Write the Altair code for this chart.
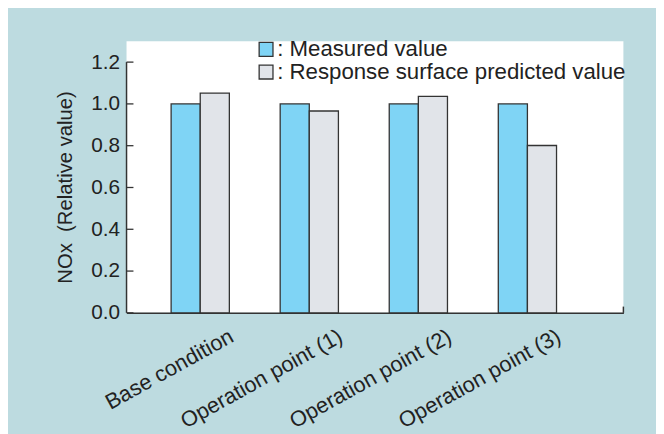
import altair as alt
import pandas as pd

categories = ["Base condition", "Operation point (1)", "Operation point (2)", "Operation point (3)"]
series_names = ["Measured value", "Response surface predicted value"]
measured = [1.0, 1.0, 1.0, 1.0]
predicted = [1.052, 0.966, 1.036, 0.801]
y_ticks = [0.0, 0.2, 0.4, 0.6, 0.8, 1.0, 1.2]

rows = []
for c, m, p in zip(categories, measured, predicted):
    rows.append({"category": c, "series": series_names[0], "value": m})
    rows.append({"category": c, "series": series_names[1], "value": p})
df = pd.DataFrame(rows)

FONT = "Liberation Sans"
BLUE = "#7fd4f5"
GRAY = "#e1e4e9"
DARK = "#333333"
TXT = "#222222"
BG = "#bddbe0"
YTITLE = "NOx\u00a0\u00a0(Relative value)"

ysc = alt.Scale(domain=[0, 1.3], nice=False)

bars = alt.Chart(df).mark_bar(stroke=DARK, strokeWidth=1.3).encode(
    x=alt.X(
        "category:N",
        sort=categories,
        scale=alt.Scale(paddingInner=0.466, paddingOuter=0.511, align=0.40),
        axis=alt.Axis(
            title=None, labelAngle=-29, labelAlign="right", labelBaseline="top",
            labelOffset=27, labelPadding=13, ticks=False, labelLimit=400,
            domainColor=DARK, domainWidth=1.5,
            labelFontSize=22, labelFont=FONT, labelColor=TXT,
        ),
    ),
    xOffset=alt.XOffset("series:N", sort=series_names,
                        scale=alt.Scale(paddingInner=0, paddingOuter=0)),
    y=alt.Y(
        "value:Q",
        scale=ysc,
        axis=alt.Axis(
            values=y_ticks, format=".1f", domain=False, ticks=False, grid=False,
            labelPadding=7, labelFontSize=21, labelFont=FONT, labelColor=TXT,
            title=YTITLE, titleFont=FONT, titleFontSize=20.5,
            titleFontWeight="normal", titleColor=TXT,
            titleX=-56, titleY=147.5, titleBaseline="alphabetic", titleAlign="center",
        ),
    ),
    color=alt.Color(
        "series:N",
        sort=series_names,
        scale=alt.Scale(domain=series_names, range=[BLUE, GRAY]),
        legend=alt.Legend(
            orient="none", legendX=130, legendY=-3, title=None, padding=0,
            symbolType="square", symbolSize=196, symbolStrokeColor=DARK,
            symbolStrokeWidth=1.3, symbolOpacity=1, labelLimit=500,
            labelExpr="': ' + datum.label", labelFontSize=22.5, labelFont=FONT,
            labelColor=TXT, rowPadding=0, labelOffset=0,
        ),
    ),
)

yline = alt.Chart(pd.DataFrame({"lo": [0.0], "hi": [1.2]})).mark_rule(
    color=DARK, strokeWidth=1.5
).encode(x=alt.value(0), y=alt.Y("lo:Q", scale=ysc, title=YTITLE), y2="hi:Q")

yticks = alt.Chart(pd.DataFrame({"t": y_ticks})).mark_rule(
    color=DARK, strokeWidth=1.3
).encode(x=alt.value(0), x2=alt.value(7), y=alt.Y("t:Q", scale=ysc, title=YTITLE))

endtick = alt.Chart(pd.DataFrame({"lo": [0.0], "hi": [0.03]})).mark_rule(
    color=DARK, strokeWidth=1.5
).encode(x=alt.value(503), y=alt.Y("lo:Q", scale=ysc, title=YTITLE), y2="hi:Q")

chart = alt.layer(bars, yline, yticks, endtick).properties(
    width=503,
    height=275,
    autosize="none",
    padding={"left": 120, "top": 31, "right": 33, "bottom": 120},
    background=BG,
).configure_view(fill="white", stroke=None)

chart.save("out.html", embed_options={"renderer": "svg", "actions": False})
